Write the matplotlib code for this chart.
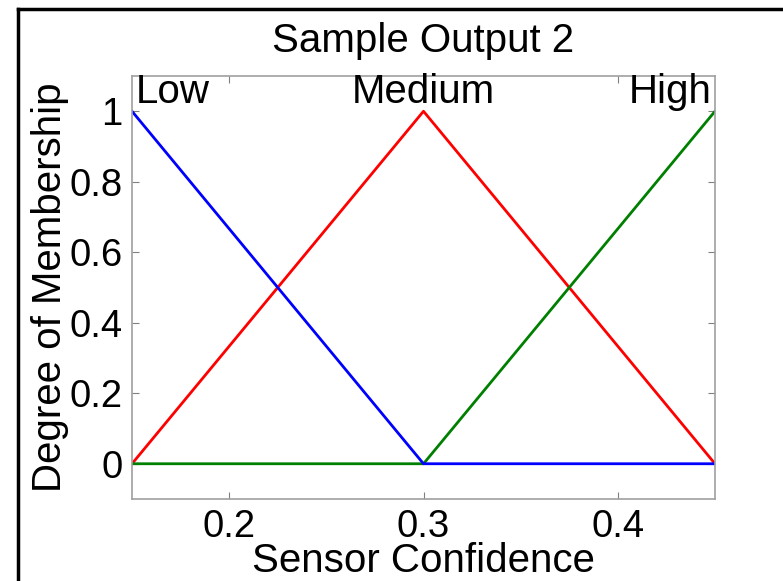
import matplotlib
matplotlib.use("Agg")
import matplotlib.pyplot as plt
from matplotlib.lines import Line2D
from matplotlib.patches import Rectangle

plt.rcParams['font.family'] = ['Liberation Sans', 'DejaVu Sans']

x = [0.15, 0.3, 0.45]
low = [1, 0, 0]
medium = [0, 1, 0]
high = [0, 0, 1]
labels = ["Low", "Medium", "High"]
xticks = [0.2, 0.3, 0.4]
yticks = [0, 0.2, 0.4, 0.6, 0.8, 1]
ytick_labels = ["0", "0.2", "0.4", "0.6", "0.8", "1"]

W, H = 783, 581
fig = plt.figure(figsize=(W / 100, H / 100), dpi=100)
ax = fig.add_axes([132 / W, 1 - 499 / H, (715 - 132) / W, (499 - 76) / H])

ax.plot(x, medium, color='#ff0000', lw=2)
ax.plot(x, high, color='#008000', lw=2)
ax.plot(x, low, color='#0000ff', lw=2)

ax.set_xlim(0.15, 0.45)
ax.set_ylim(-0.1, 1.1)
ax.set_xticks(xticks)
ax.set_xticklabels([f"{t:g}" for t in xticks])
ax.set_yticks(yticks)
ax.set_yticklabels(ytick_labels)
ax.tick_params(direction='in', length=5, color='#808080', labelsize=27.5,
               top=True, right=True, pad=7)
for s in ax.spines.values():
    s.set_color('#a0a0a0')
    s.set_linewidth(1.2)

ax.text(0.152, 1.0, labels[0], fontsize=29, ha='left', va='bottom')
ax.text(0.3, 1.0, labels[1], fontsize=29, ha='center', va='bottom')
ax.text(0.4485, 1.0, labels[2], fontsize=29, ha='right', va='bottom')

ax.set_title("Sample Output 2", fontsize=29, pad=17)
ax.set_xlabel("Sensor Confidence", fontsize=29, labelpad=-2)
ax.set_ylabel("Degree of Membership", fontsize=29, labelpad=0)

# white strip on right edge
fig.add_artist(Rectangle((760 / W, 0), 30 / W, 1, transform=fig.transFigure,
                         facecolor='white', edgecolor='none', zorder=10))
# figure border (top and left lines visible)
fig.add_artist(Line2D([18 / W, 18 / W], [0, 1 - 9 / H], transform=fig.transFigure,
                      color='black', lw=2.5, zorder=11))
fig.add_artist(Line2D([18 / W, 1.01], [1 - 9 / H, 1 - 9 / H], transform=fig.transFigure,
                      color='black', lw=2.5, zorder=11))

fig.savefig("out.png", dpi=100, facecolor='white')
